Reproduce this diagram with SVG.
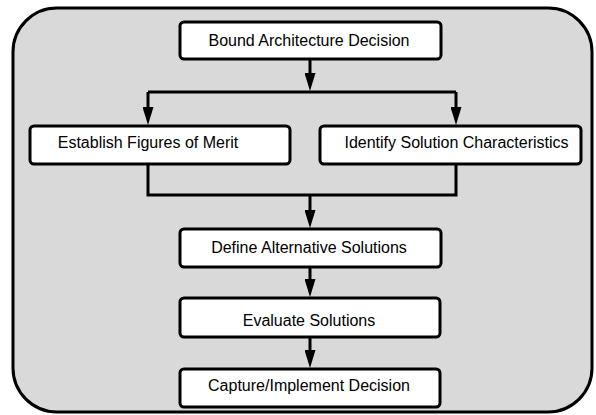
<svg xmlns="http://www.w3.org/2000/svg" width="596" height="415" viewBox="0 0 596 415">
  <style>
    .frame { fill: #d9d9d9; stroke: #000; stroke-width: 3; }
    .box { fill: #fff; stroke: #000; stroke-width: 3; }
    .label { font-family: "Liberation Sans", Arial, sans-serif; font-size: 16px; fill: #000; text-anchor: middle; }
    .wire { fill: none; stroke: #000; stroke-width: 3; }
  </style>
  <defs>
    <!-- arrowhead: 18 long, 11 wide; tip sits 8px past the end of the wire -->
    <marker id="arrow" markerUnits="userSpaceOnUse" markerWidth="18" markerHeight="11" refX="10" refY="5.5" orient="auto" viewBox="0 0 18 11">
      <path d="M0,0 L18,5.5 L0,11 Z" fill="#000"/>
    </marker>
  </defs>

  <rect class="frame" x="13" y="8" width="579" height="404" rx="44" ry="44"/>

  <g id="connectors">
    <path class="wire" d="M310,59 V83" marker-end="url(#arrow)"/>
    <path class="wire" d="M148,92 H456"/>
    <path class="wire" d="M148,92 V117" marker-end="url(#arrow)"/>
    <path class="wire" d="M456,92 V117" marker-end="url(#arrow)"/>
    <path class="wire" d="M148,164 V195 H456 V164"/>
    <path class="wire" d="M310,195 V220" marker-end="url(#arrow)"/>
    <path class="wire" d="M310,267 V289" marker-end="url(#arrow)"/>
    <path class="wire" d="M310,337 V360" marker-end="url(#arrow)"/>
  </g>

  <g id="bound">
    <rect class="box" x="180" y="22" width="261" height="37" rx="4"/>
    <text class="label" x="309" y="46">Bound Architecture Decision</text>
  </g>
  <g id="figures">
    <rect class="box" x="30" y="126" width="260" height="38" rx="4"/>
    <text class="label" x="148" y="148">Establish Figures of Merit</text>
  </g>
  <g id="characteristics">
    <rect class="box" x="320" y="126" width="261" height="38" rx="4"/>
    <text class="label" x="456.5" y="148">Identify Solution Characteristics</text>
  </g>
  <g id="alternatives">
    <rect class="box" x="180" y="229" width="261" height="38" rx="4"/>
    <text class="label" x="309" y="253">Define Alternative Solutions</text>
  </g>
  <g id="evaluate">
    <rect class="box" x="180" y="298" width="260" height="39" rx="4"/>
    <text class="label" x="309" y="326">Evaluate Solutions</text>
  </g>
  <g id="capture">
    <rect class="box" x="180" y="369" width="260" height="38" rx="4"/>
    <text class="label" x="309" y="391">Capture/Implement Decision</text>
  </g>
</svg>
